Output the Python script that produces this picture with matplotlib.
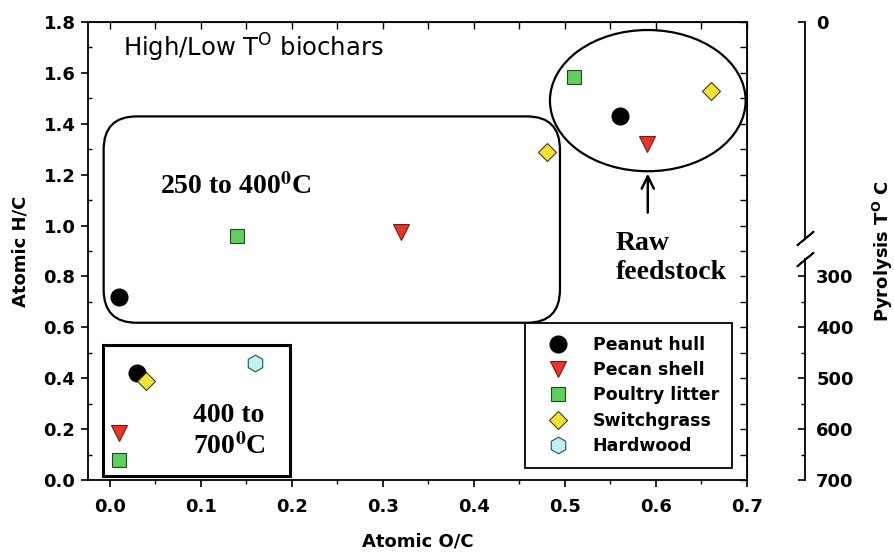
import matplotlib
matplotlib.use("Agg")
import matplotlib.pyplot as plt
from matplotlib.patches import FancyBboxPatch, Ellipse, Rectangle
from matplotlib.ticker import MultipleLocator, NullFormatter

plt.rcParams['font.family'] = ['DejaVu Sans']
plt.rcParams['mathtext.fontset'] = 'custom'
plt.rcParams['mathtext.rm'] = 'DejaVu Sans'
plt.rcParams['mathtext.bf'] = 'DejaVu Sans:bold'

# atomic O/C and H/C: raw feedstock, low T (250-400C) char, high T (400-700C) char
peanut_oc = [0.56, 0.01, 0.03]
peanut_hc = [1.43, 0.72, 0.42]
pecan_oc = [0.59, 0.32, 0.01]
pecan_hc = [1.32, 0.975, 0.185]
poultry_oc = [0.51, 0.14, 0.01]
poultry_hc = [1.585, 0.96, 0.08]
switch_oc = [0.66, 0.48, 0.04]
switch_hc = [1.53, 1.29, 0.39]
hardwood_oc = [0.16]
hardwood_hc = [0.46]

x_ticks = [0, 0.1, 0.2, 0.3, 0.4, 0.5, 0.6, 0.7]
x_labels = ['0.0', '0.1', '0.2', '0.3', '0.4', '0.5', '0.6', '0.7']
y_ticks = [0, 0.2, 0.4, 0.6, 0.8, 1.0, 1.2, 1.4, 1.6, 1.8]
y_labels = ['0.0', '0.2', '0.4', '0.6', '0.8', '1.0', '1.2', '1.4', '1.6', '1.8']
temp_ticks = [300, 400, 500, 600, 700]
temp_labels = ['300', '400', '500', '600', '700']

W, H = 894, 554
fig = plt.figure(figsize=(W / 100, H / 100), dpi=100)
ax = fig.add_axes([88 / W, 1 - 480 / H, 659 / W, 458 / H])

ax.set_xlim(-0.024, 0.7)
ax.set_ylim(0, 1.8)

# series
ax.plot(peanut_oc, peanut_hc, 'o', ms=12, mfc='black', mec='black', label='Peanut hull', zorder=5)
ax.plot(pecan_oc, pecan_hc, 'v', ms=11, mfc='#e8352a', mec='#7a1a10', mew=0.8, label='Pecan shell', zorder=5)
ax.plot(poultry_oc, poultry_hc, 's', ms=10.5, mfc='#5fcf5f', mec='#1d4d1d', mew=0.8, label='Poultry litter', zorder=5)
ax.plot(switch_oc, switch_hc, 'D', ms=9, mfc='#f2e236', mec='#3d3a10', mew=0.8, label='Switchgrass', zorder=5)
ax.plot(hardwood_oc, hardwood_hc, 'h', ms=12, mfc='#bdf2f0', mec='#2c4f4f', mew=0.8, label='Hardwood', zorder=5)

# grouping outlines
rx, ry = 0.0363, 0.13
low_box = FancyBboxPatch((-0.0068, 0.618), 0.5013, 0.811,
                         boxstyle='round,pad=0,rounding_size=%f' % rx,
                         mutation_aspect=ry / rx, fill=False, lw=1.6, ec='black')
ax.add_patch(low_box)
ax.add_patch(Rectangle((-0.0073, 0.0157), 0.2051, 0.515, fill=False, lw=2.2, ec='black'))
ax.add_patch(Ellipse((0.591, 1.491), 0.215, 0.555, fill=False, lw=1.6, ec='black'))

ax.annotate('', xy=(0.591, 1.215), xytext=(0.591, 1.04),
            arrowprops=dict(arrowstyle='->', lw=1.8, color='black', mutation_scale=22))

serif = dict(family='Liberation Serif', weight='bold', fontsize=20, math_fontfamily='stix')
ax.text(0.014, 1.70, r'High/Low T$^{\mathrm{O}}$ biochars', fontsize=17.5, va='center', ha='left')
ax.text(0.055, 1.153, r'250 to 400$^{\mathbf{0}}$C', va='center', ha='left', **serif)
ax.text(0.091, 0.191, '400 to\n' + r'700$^{\mathbf{0}}$C', va='center', ha='left',
        linespacing=1.25, **serif)
ax.text(0.556, 0.874, 'Raw\nfeedstock', va='center', ha='left', linespacing=1.22, **serif)

# ticks: outward on bottom/left, inward on top/right
ax.set_xticks(x_ticks)
ax.set_xticklabels(x_labels, fontweight='bold', fontsize=13)
ax.set_yticks(y_ticks)
ax.set_yticklabels(y_labels, fontweight='bold', fontsize=13)
ax.xaxis.set_minor_locator(MultipleLocator(0.05))
ax.yaxis.set_minor_locator(MultipleLocator(0.1))
ax.tick_params(axis='x', which='major', direction='out', length=5, width=1.2, pad=8)
ax.tick_params(axis='x', which='minor', direction='out', length=3, width=1.0)
ax.tick_params(axis='y', which='major', direction='out', length=5, width=1.2, pad=4)
ax.tick_params(axis='y', which='minor', direction='in', length=3, width=1.0)
for sp in ax.spines.values():
    sp.set_linewidth(1.3)

top = ax.secondary_xaxis('top')
top.xaxis.set_major_locator(MultipleLocator(0.05))
top.xaxis.set_major_formatter(NullFormatter())
top.tick_params(direction='in', length=5, width=1.0)
right = ax.secondary_yaxis('right')
right.yaxis.set_major_locator(MultipleLocator(0.1))
right.yaxis.set_major_formatter(NullFormatter())
right.tick_params(direction='in', length=5, width=1.0)

ax.set_xlabel('Atomic O/C', fontsize=13, fontweight='bold', labelpad=12)
ax.set_ylabel('Atomic H/C', fontsize=13, fontweight='bold', labelpad=10)

leg = ax.legend(loc='lower right', bbox_to_anchor=(0.977, 0.026), borderaxespad=0,
                prop=dict(weight='bold', size=12.5), frameon=True, fancybox=False,
                edgecolor='black', handletextpad=0.86, labelspacing=0.42,
                borderpad=0.75, handlelength=2.3)
leg.get_frame().set_linewidth(1.3)
leg.get_frame().set_alpha(1)

# pyrolysis temperature scale, broken between 0 and 300
t_top = 700 - 500 * 1.8
ax2 = fig.add_axes([805 / W, 1 - 480 / H, 0.0001, 458 / H])
ax2.set_ylim(700, t_top)
ax2.set_xlim(0, 1)
ax2.patch.set_visible(False)
for sp in ax2.spines.values():
    sp.set_visible(False)
ax2.xaxis.set_visible(False)
ax2.yaxis.set_ticks_position('right')
ax2.set_yticks([t_top] + temp_ticks)
ax2.set_yticklabels(['0'] + temp_labels, fontweight='bold', fontsize=13)
ax2.set_yticks([350, 450, 550, 650], minor=True)
ax2.tick_params(axis='y', which='major', direction='in', length=5, width=1.2, pad=8)
ax2.tick_params(axis='y', which='minor', direction='in', length=3, width=1.0)
ax2.plot([1, 1], [t_top, 225], color='black', lw=1.3, clip_on=False)
ax2.plot([1, 1], [265, 700], color='black', lw=1.3, clip_on=False)
ax2.plot([1, 1], [225, 265], ls='none', marker=(2, 2, -50), ms=16, mew=1.3,
         color='black', clip_on=False)
fig.text(883 / W, 1 - 251 / H, r'Pyrolysis T$^{\mathbf{O}}$ C', rotation=90,
         fontsize=13, fontweight='bold', ha='center', va='center')

fig.savefig('out.png', dpi=100)
